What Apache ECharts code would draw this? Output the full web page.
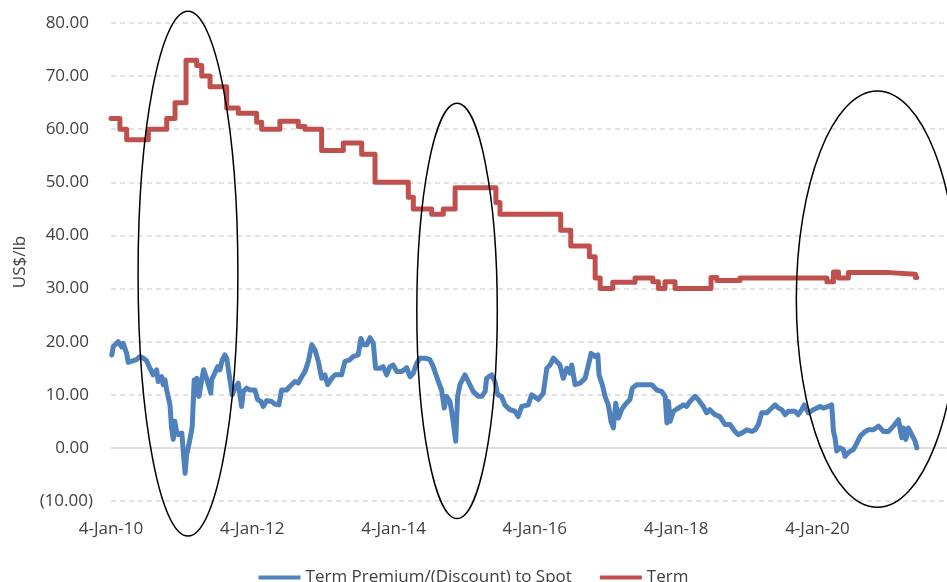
<!DOCTYPE html>
<html>
<head>
<meta charset="utf-8">
<script src="https://cdn.jsdelivr.net/npm/echarts@6/dist/echarts.min.js"></script>
<style>
  html, body { margin: 0; padding: 0; background: #fff; }
  #chart { width: 947px; height: 582px; }
</style>
</head>
<body>
<div id="chart"></div>
<script>
// Term price (US$/lb): [date the price took effect, price]
const termPrice = [
  ['2010-01-04', 62], ['2010-02-19', 60], ['2010-03-26', 58], ['2010-07-16', 60],
  ['2010-10-19', 62], ['2010-12-01', 65], ['2011-01-27', 73], ['2011-03-23', 72],
  ['2011-04-18', 70], ['2011-05-31', 68], ['2011-08-25', 64], ['2011-10-24', 63],
  ['2012-01-27', 61.3], ['2012-02-22', 60], ['2012-05-26', 61.5], ['2012-08-29', 60.5],
  ['2012-10-03', 60], ['2012-12-28', 56], ['2013-04-19', 57.4], ['2013-07-23', 55.3],
  ['2013-09-30', 50], ['2014-03-21', 47.2], ['2014-04-16', 45], ['2014-07-20', 44],
  ['2014-09-18', 45], ['2014-11-18', 49], ['2015-06-17', 46.2], ['2015-07-08', 44],
  ['2016-05-17', 41], ['2016-07-08', 38], ['2016-10-12', 36], ['2016-11-11', 32],
  ['2016-12-07', 30], ['2017-02-10', 31.2], ['2017-06-05', 32], ['2017-09-05', 31.3],
  ['2017-10-04', 30], ['2017-11-07', 31.3], ['2017-12-29', 30], ['2018-07-03', 32.1],
  ['2018-08-02', 31.5], ['2018-11-30', 32], ['2020-02-22', 31.3], ['2020-03-27', 33.1],
  ['2020-04-22', 32], ['2020-06-12', 33], ['2021-01-10', 32.7], ['2021-05-25', 32.1],
  ['2021-06-01', 32.1]
];

// Term premium / (discount) to spot (US$/lb)
const termPremium = [
  ['2010-01-08', 17.5], ['2010-01-16', 19.1], ['2010-02-10', 20], ['2010-02-28', 19],
  ['2010-03-08', 19.7], ['2010-03-26', 17.8], ['2010-04-03', 16.1], ['2010-05-16', 16.6],
  ['2010-06-02', 17.2], ['2010-06-20', 16.9], ['2010-07-07', 16.4], ['2010-07-24', 15],
  ['2010-08-10', 13.75], ['2010-08-28', 14.7], ['2010-09-05', 12.5], ['2010-09-23', 13.4],
  ['2010-10-01', 11.9], ['2010-10-10', 12.8], ['2010-10-19', 10.9], ['2010-11-05', 8.1],
  ['2010-11-13', 3.75], ['2010-11-22', 1.6], ['2010-11-30', 5], ['2010-12-09', 3.1],
  ['2010-12-17', 2.5], ['2011-01-05', 2.8], ['2011-01-13', 2.5], ['2011-01-22', -4.8],
  ['2011-01-30', -1.25], ['2011-02-07', 0], ['2011-02-21', 2.5], ['2011-02-28', 4.1],
  ['2011-03-05', 3.75], ['2011-03-10', 12.8], ['2011-03-17', 10], ['2011-03-24', 13.1],
  ['2011-04-04', 9.7], ['2011-04-18', 12.8], ['2011-04-28', 14.7], ['2011-05-13', 13.1],
  ['2011-06-04', 10.3], ['2011-06-08', 12.8], ['2011-06-25', 14.1], ['2011-07-09', 15.3],
  ['2011-07-21', 14.7], ['2011-08-02', 16.6], ['2011-08-16', 17.5], ['2011-08-25', 16.9],
  ['2011-09-11', 12.8], ['2011-09-23', 10], ['2011-10-07', 11.25], ['2011-10-24', 12.2],
  ['2011-11-10', 7.8], ['2011-11-19', 10.6], ['2011-12-06', 11.25], ['2011-12-23', 10.9],
  ['2012-01-18', 10.9], ['2012-02-01', 9.1], ['2012-02-18', 8.75], ['2012-03-01', 7.8],
  ['2012-03-19', 8.9], ['2012-04-13', 8.75], ['2012-04-30', 8.25], ['2012-05-21', 8.1],
  ['2012-06-04', 10.9], ['2012-06-30', 10.9], ['2012-07-17', 11.6], ['2012-08-12', 12.5],
  ['2012-08-29', 12.2], ['2012-09-16', 13.4], ['2012-10-03', 14.4], ['2012-10-20', 16.25],
  ['2012-11-07', 19.4], ['2012-11-24', 18.4], ['2012-12-11', 16.25], ['2012-12-28', 13.1],
  ['2013-01-14', 13.75], ['2013-01-28', 11.9], ['2013-02-18', 13.1], ['2013-03-07', 13.75],
  ['2013-04-10', 13.75], ['2013-04-27', 16.25], ['2013-05-23', 16.6], ['2013-06-09', 17.2],
  ['2013-07-05', 17.5], ['2013-07-19', 20.6], ['2013-07-31', 19.4], ['2013-08-18', 19.4],
  ['2013-09-04', 20.75], ['2013-09-21', 19.7], ['2013-10-03', 15], ['2013-10-25', 15],
  ['2013-11-11', 15.3], ['2013-11-29', 13.75], ['2013-12-16', 15.3], ['2014-01-02', 15.6],
  ['2014-01-20', 14.4], ['2014-02-15', 14.4], ['2014-03-13', 15.1], ['2014-03-30', 13.4],
  ['2014-04-16', 14.1], ['2014-05-03', 15.9], ['2014-05-20', 16.9], ['2014-06-15', 16.9],
  ['2014-07-11', 16.6], ['2014-07-28', 15.3], ['2014-08-23', 12.5], ['2014-09-09', 10.9],
  ['2014-09-23', 7.5], ['2014-10-05', 9.7], ['2014-10-22', 8.75], ['2014-11-03', 6.25],
  ['2014-11-21', 1.25], ['2014-12-01', 9.7], ['2014-12-13', 11.9], ['2015-01-08', 13.75],
  ['2015-01-25', 12.5], ['2015-02-20', 10.6], ['2015-03-18', 9.7], ['2015-04-05', 9.7],
  ['2015-04-22', 10.6], ['2015-04-30', 13.1], ['2015-05-26', 13.75], ['2015-06-12', 12.5],
  ['2015-06-26', 10], ['2015-07-16', 9.7], ['2015-08-02', 8.1], ['2015-08-28', 7.2],
  ['2015-09-23', 6.9], ['2015-10-10', 5.9], ['2015-10-28', 7.8], ['2015-12-01', 8.1],
  ['2015-12-19', 10], ['2016-01-22', 9.1], ['2016-02-17', 10.3], ['2016-03-06', 15],
  ['2016-03-23', 15.6], ['2016-04-09', 16.9], ['2016-04-26', 16.25], ['2016-05-13', 15.6],
  ['2016-05-30', 13.1], ['2016-06-17', 15], ['2016-07-04', 14.1], ['2016-07-13', 15.6],
  ['2016-07-30', 11.9], ['2016-08-25', 12.2], ['2016-09-20', 13.1], ['2016-10-07', 15.6],
  ['2016-10-21', 17.8], ['2016-11-11', 17.2], ['2016-11-25', 17.5], ['2016-12-01', 13.75],
  ['2016-12-18', 11.9], ['2017-01-01', 9.7], ['2017-01-18', 8.1], ['2017-02-01', 5],
  ['2017-02-13', 3.75], ['2017-02-25', 8.4], ['2017-03-11', 5.6], ['2017-03-28', 7.2],
  ['2017-04-14', 8.1], ['2017-05-10', 9.1], ['2017-05-22', 11.25], ['2017-06-14', 11.9],
  ['2017-07-10', 11.9], ['2017-08-05', 11.9], ['2017-08-31', 11.9], ['2017-09-26', 10.9],
  ['2017-10-22', 10.6], ['2017-11-08', 9.7], ['2017-11-17', 4.7], ['2017-11-25', 8.75],
  ['2017-12-04', 5], ['2017-12-21', 6.9], ['2018-01-15', 7.5], ['2018-02-10', 8.1],
  ['2018-02-27', 7.8], ['2018-03-16', 8.75], ['2018-04-11', 9.7], ['2018-04-28', 9.1],
  ['2018-05-24', 7.8], ['2018-06-10', 6.6], ['2018-06-27', 7.2], ['2018-07-23', 6.25],
  ['2018-08-18', 5.9], ['2018-09-13', 4.4], ['2018-10-09', 4.4], ['2018-11-04', 3.1],
  ['2018-11-21', 2.5], ['2018-12-09', 2.8], ['2019-01-04', 3.4], ['2019-01-30', 3.1],
  ['2019-02-16', 3.4], ['2019-03-05', 4.4], ['2019-03-22', 6.6], ['2019-04-17', 6.6],
  ['2019-05-13', 7.5], ['2019-05-30', 8.1], ['2019-06-16', 7.5], ['2019-07-04', 7.2],
  ['2019-07-21', 6.25], ['2019-08-07', 6.9], ['2019-09-10', 6.9], ['2019-09-27', 6.25],
  ['2019-10-15', 7.2], ['2019-10-28', 8.1], ['2019-11-18', 6.6], ['2019-12-14', 7.2],
  ['2020-01-18', 7.8], ['2020-02-04', 7.5], ['2020-03-01', 7.8], ['2020-03-18', 8.1],
  ['2020-03-27', 3.1], ['2020-04-04', 1.9], ['2020-04-13', -0.6], ['2020-04-30', 0],
  ['2020-05-17', -0.3], ['2020-05-26', -1.6], ['2020-06-12', -0.9], ['2020-07-08', -0.3],
  ['2020-07-26', 0.9], ['2020-08-12', 2.2], ['2020-09-07', 3.1], ['2020-09-24', 3.4],
  ['2020-10-20', 3.4], ['2020-11-15', 4.1], ['2020-12-11', 3.1], ['2021-01-05', 3.1],
  ['2021-01-31', 4.1], ['2021-02-26', 5.3], ['2021-03-15', 1.9], ['2021-03-23', 3.75],
  ['2021-04-05', 1.6], ['2021-04-18', 3.75], ['2021-05-06', 2.5], ['2021-05-23', 1.25],
  ['2021-06-01', 0]
];

// Date axis: start, end and labelled dates
const axisStart = '2010-01-04';
const axisEnd = '2021-11-04';
const xLabelDates = ['2010-01-04', '2012-01-04', '2014-01-04', '2016-01-04', '2018-01-04', '2020-01-04'];

// Value axis ticks (US$/lb)
const yMin = -10, yMax = 80, yStep = 10;

// Highlighted periods: [centre date, centre value, half-width in days, half-height in US$/lb]
const highlights = [
  ['2011-02-06', 32.8, 258, 49.4],
  ['2014-11-28', 25.8, 208, 39.1],
  ['2020-11-09', 28.0, 419, 39.2]
];

const MONTHS = ['Jan','Feb','Mar','Apr','May','Jun','Jul','Aug','Sep','Oct','Nov','Dec'];
const FONT = '"Open Sans", sans-serif';
const TEXT = '#404040';
const DAY = 86400000;

function ts(s) {
  const p = s.split('-').map(Number);
  return Date.UTC(p[0], p[1] - 1, p[2]);
}
function fmtDate(v) {
  const d = new Date(v);
  return d.getUTCDate() + '-' + MONTHS[d.getUTCMonth()] + '-' + String(d.getUTCFullYear()).slice(2);
}
function fmtValue(v) {
  return v < 0 ? '(' + Math.abs(v).toFixed(2) + ')' : '{p|' + v.toFixed(2) + '}';
}

const chart = echarts.init(document.getElementById('chart'), null, { renderer: 'canvas' });

chart.setOption({
  animation: false,
  backgroundColor: '#ffffff',
  grid: { left: 111, right: 0, top: 23, bottom: 81, containLabel: false },
  legend: {
    data: ['Term Premium/(Discount) to Spot', 'Term'],
    top: 564,
    left: 'center',
    icon: 'rect',
    itemWidth: 42,
    itemHeight: 4,
    itemGap: 28,
    textStyle: { fontFamily: FONT, fontSize: 17, color: TEXT }
  },
  xAxis: {
    type: 'value',
    min: ts(axisStart),
    max: ts(axisEnd),
    axisLine: { show: false },
    axisTick: { show: false },
    splitLine: { show: false },
    axisLabel: {
      customValues: xLabelDates.map(ts),
      formatter: fmtDate,
      fontFamily: FONT,
      fontSize: 17,
      color: TEXT,
      margin: 20,
      hideOverlap: false
    }
  },
  yAxis: {
    type: 'value',
    min: yMin,
    max: yMax,
    interval: yStep,
    name: 'US$/lb',
    nameLocation: 'middle',
    nameGap: 80,
    nameRotate: 90,
    nameTextStyle: { fontFamily: FONT, fontSize: 17, color: TEXT },
    axisLine: { show: false },
    axisTick: { show: false },
    axisLabel: {
      formatter: fmtValue,
      fontFamily: FONT,
      fontSize: 17,
      color: TEXT,
      margin: 18,
      rich: { p: { fontFamily: FONT, fontSize: 17, color: TEXT, padding: [0, 4, 0, 0] } }
    },
    splitLine: { lineStyle: { color: '#d9d9d9', width: 1.5, type: [5, 4] } }
  },
  series: [
    {
      name: 'Term',
      type: 'line',
      step: 'end',
      data: termPrice.map(d => [ts(d[0]), d[1]]),
      showSymbol: false,
      symbol: 'none',
      z: 3,
      itemStyle: { color: '#c0504d' },
      lineStyle: { color: '#c0504d', width: 5, join: 'round', cap: 'round' },
      markLine: {
        silent: true,
        z: 1,
        symbol: 'none',
        label: { show: false },
        lineStyle: { color: '#d9d9d9', type: 'solid', width: 1.5 },
        data: [{ yAxis: 0 }]
      }
    },
    {
      name: 'Term Premium/(Discount) to Spot',
      type: 'line',
      data: termPremium.map(d => [ts(d[0]), d[1]]),
      showSymbol: false,
      symbol: 'none',
      z: 4,
      itemStyle: { color: '#4f81bd' },
      lineStyle: { color: '#4f81bd', width: 5, join: 'round', cap: 'round' }
    },
    {
      name: 'highlight',
      type: 'custom',
      clip: false,
      silent: true,
      z: 5,
      data: highlights.map(h => [ts(h[0]), h[1], h[2], h[3]]),
      renderItem: function (params, api) {
        const t = api.value(0), v = api.value(1);
        const c = api.coord([t, v]);
        const r = api.coord([t + api.value(2) * DAY, v]);
        const top = api.coord([t, v + api.value(3)]);
        return {
          type: 'ellipse',
          shape: { cx: c[0], cy: c[1], rx: Math.abs(r[0] - c[0]), ry: Math.abs(c[1] - top[1]) },
          style: { fill: 'none', stroke: '#000', lineWidth: 1.5 }
        };
      }
    }
  ]
});
</script>
</body>
</html>
